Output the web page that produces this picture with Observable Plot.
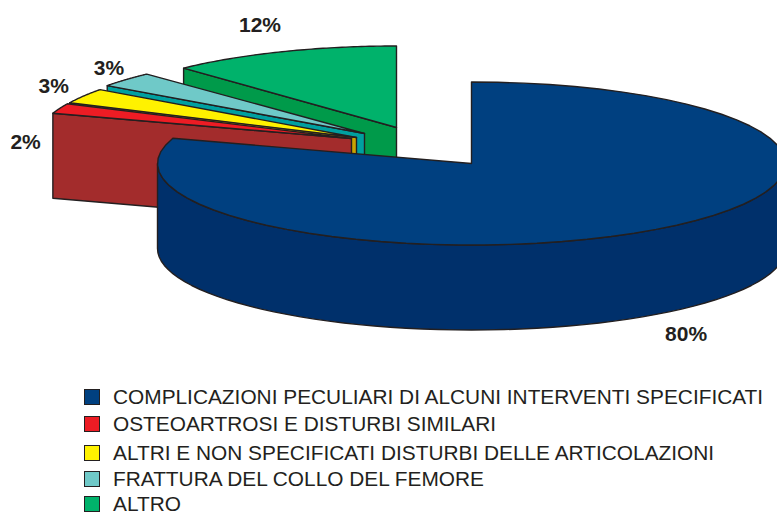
<!DOCTYPE html>
<html>
<head>
<meta charset="utf-8">
<script src="https://cdn.jsdelivr.net/npm/d3@7"></script>
<script src="https://cdn.jsdelivr.net/npm/@observablehq/plot@0.6"></script>
<style>
html,body{margin:0;padding:0;background:#fff;width:777px;height:515px;overflow:hidden}
#chart svg{display:block}
#legend{font-family:"Liberation Sans",Arial,sans-serif;font-size:20.85px;color:#231f20}
.row{display:flex;align-items:center;height:16px;white-space:nowrap}
.row span:last-child{display:block;line-height:16px}
.sw{box-sizing:border-box;width:16px;height:16px;margin-left:84px;margin-right:13px;border:1.5px solid #231f20;flex:none}
</style>
</head>
<body>
<div id="chart"></div>
<div id="legend"></div>
<script>
// Data
const categories = [
  "COMPLICAZIONI PECULIARI DI ALCUNI INTERVENTI SPECIFICATI",
  "OSTEOARTROSI E DISTURBI SIMILARI",
  "ALTRI E NON SPECIFICATI DISTURBI DELLE ARTICOLAZIONI",
  "FRATTURA DEL COLLO DEL FEMORE",
  "ALTRO"
];
const values = [80, 2, 3, 3, 12];
const topColors  = ["#004080", "#ed1c24", "#fff200", "#6fc9c8", "#00b26b"];
const sideColors = ["#00306b", "#a32c2c", "#c9a400", "#00a0a0", "#009a4a"];

// Pie layout (ellipse shape, exploded apex of each slice, label offsets from the rim)
const radiiX = [314, 314, 317, 318, 311];
const ry = 81.5, depth = 85;
const apexX = [471, 351, 356, 364, 396];
const apexY = [163, 138, 137, 133, 127];
const labelDx = [30, -34, -30, -17, -22];
const labelDy = [105, 34, -10, -11, -26];
const legendGaps = [0, 11, 13, 10, 8.5];
const ink = "#231f20";

const total = d3.sum(values);
const cum = d3.cumsum(values);
const slices = values.map((v, i) => {
  const t0 = (cum[i] - v) / total * 360, t1 = cum[i] / total * 360;
  return {i, v, t0, t1, cx: apexX[i], cy: apexY[i], rx: radiiX[i]};
});
const rim = (s, t, dz = 0) => {
  const a = t * Math.PI / 180;
  return {x: s.cx + s.rx * Math.sin(a), y: s.cy - ry * Math.cos(a) + dz};
};
const arc = (s, a, b, dz = 0) => d3.range(0, 61).map(k => rim(s, a + (b - a) * k / 60, dz));

const polys = [];
// paint from the farthest slice to the nearest one
[4, 3, 2, 1].forEach(i => {
  const s = slices[i];
  const p = rim(s, s.t0), q = rim(s, s.t0, depth);
  polys.push({fill: sideColors[i], pts: [p, {x: s.cx, y: s.cy}, {x: s.cx, y: s.cy + depth}, q]});
  polys.push({fill: topColors[i], pts: [{x: s.cx, y: s.cy}, ...arc(s, s.t0, s.t1)]});
});
const big = slices[0];
polys.push({fill: sideColors[0], pts: [...arc(big, 90, 270), ...arc(big, 270, 90, depth)]});
polys.push({fill: topColors[0], pts: [{x: big.cx, y: big.cy}, ...arc(big, big.t0, big.t1)]});

const labels = slices.map(s => {
  const m = rim(s, (s.t0 + s.t1) / 2);
  return {x: m.x + labelDx[s.i], y: m.y + labelDy[s.i], text: `${s.v}%`};
});

const svgH = 389;
const plot = Plot.plot({
  width: 777, height: svgH,
  margin: 0,
  x: {domain: [0, 777], range: [0, 777], axis: null},
  y: {domain: [0, svgH], range: [0, svgH], axis: null},
  marks: [
    ...polys.map(p => Plot.line(p.pts, {
      x: "x", y: "y", fill: p.fill, stroke: ink, strokeWidth: 1.4,
      curve: "linear-closed", strokeLinejoin: "round"
    })),
    Plot.text(labels, {
      x: "x", y: "y", text: "text", fill: ink, fontSize: 21, fontWeight: "bold",
      fontFamily: "Liberation Sans, Arial, sans-serif", textAnchor: "middle"
    })
  ]
});
document.getElementById("chart").append(plot);

const legend = document.getElementById("legend");
categories.forEach((c, i) => {
  const r = document.createElement("div"); r.className = "row";
  r.style.marginTop = legendGaps[i] + "px";
  const sw = document.createElement("span"); sw.className = "sw"; sw.style.background = topColors[i];
  const t = document.createElement("span"); t.textContent = c;
  r.append(sw, t); legend.append(r);
});
</script>
</body>
</html>
